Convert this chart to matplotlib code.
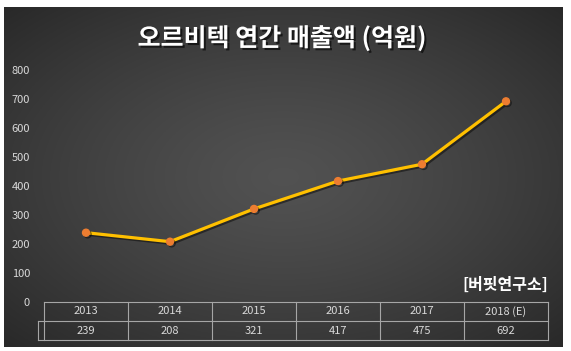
import numpy as np
import matplotlib.pyplot as plt
import matplotlib.patheffects as pe

plt.rcParams['font.family'] = ['Noto Sans CJK KR', 'DejaVu Sans']

years = ['2013', '2014', '2015', '2016', '2017', '2018 (E)']
sales = [239, 208, 321, 417, 475, 692]
y_ticks = [0, 100, 200, 300, 400, 500, 600, 700, 800]
title = '오르비텍 연간 매출액 (억원)'
source = '[버핏연구소]'

W, H = 571, 351
fig = plt.figure(figsize=(W / 100, H / 100), dpi=100)
fig.patch.set_facecolor('white')

# dark radial background panel
bg = fig.add_axes([4 / W, 4 / H, 559 / W, 340 / H])
gx, gy = np.meshgrid(np.linspace(-1, 1, 400), np.linspace(-1, 1, 250))
r = np.clip(np.sqrt(gx ** 2 + gy ** 2) / np.sqrt(2), 0, 1)
shade = 0.32 - 0.16 * r ** 1.3
bg.imshow(np.dstack([shade] * 3), aspect='auto', extent=[0, 1, 0, 1])
bg.set_axis_off()

# plot area
ax = fig.add_axes([44 / W, (H - 302) / H, 504 / W, 232 / H])
ax.set_facecolor('none')
ax.set_xlim(-0.5, len(years) - 0.5)
ax.set_ylim(0, 800)
for s in ax.spines.values():
    s.set_visible(False)
ax.set_xticks([])
ax.set_yticks(y_ticks)
ax.tick_params(axis='y', length=0, pad=10, labelsize=8, labelcolor='#d9d9d9')

shadow = [pe.SimpleLineShadow(offset=(1.2, -1.2), shadow_color='black', alpha=0.45), pe.Normal()]
ax.plot(range(len(years)), sales, color='#FFC000', lw=2.3, marker='o', ms=5,
        mfc='#ED7D31', mec='#ED7D31', solid_capstyle='round', path_effects=shadow, zorder=3)

# data table under the axis
row_h = 19 / 232
tc = '#a6a6a6'
n = len(years)
ax.plot([0, 1], [0, 0], transform=ax.transAxes, color=tc, lw=0.8, clip_on=False)
ax.plot([-6 / 504, 1], [-row_h, -row_h], transform=ax.transAxes, color=tc, lw=0.8, clip_on=False)
ax.plot([-6 / 504, 1], [-2 * row_h, -2 * row_h], transform=ax.transAxes, color=tc, lw=0.8, clip_on=False)
ax.plot([-6 / 504, -6 / 504], [-row_h, -2 * row_h], transform=ax.transAxes, color=tc, lw=0.8, clip_on=False)
for i in range(n + 1):
    ax.plot([i / n, i / n], [0, -2 * row_h], transform=ax.transAxes, color=tc, lw=0.8, clip_on=False)
for i, (yr, v) in enumerate(zip(years, sales)):
    xc = (i + 0.5) / n
    ax.text(xc, -0.5 * row_h, yr, transform=ax.transAxes, ha='center', va='center',
            fontsize=8, color='#d9d9d9')
    ax.text(xc, -1.5 * row_h, str(v), transform=ax.transAxes, ha='center', va='center',
            fontsize=8, color='#d9d9d9')

ax.text(1, 58, source, ha='right', va='center', fontsize=11.5, fontweight='bold',
        color='white', transform=ax.get_yaxis_transform())

fig.text(282 / W, 1 - 38 / H, title, ha='center', va='center', fontsize=18,
         fontweight='bold', color='white',
         path_effects=[pe.withSimplePatchShadow(offset=(1.5, -1.5), shadow_rgbFace='black', alpha=0.6)])

fig.savefig('out.png', dpi=100, facecolor='white')
